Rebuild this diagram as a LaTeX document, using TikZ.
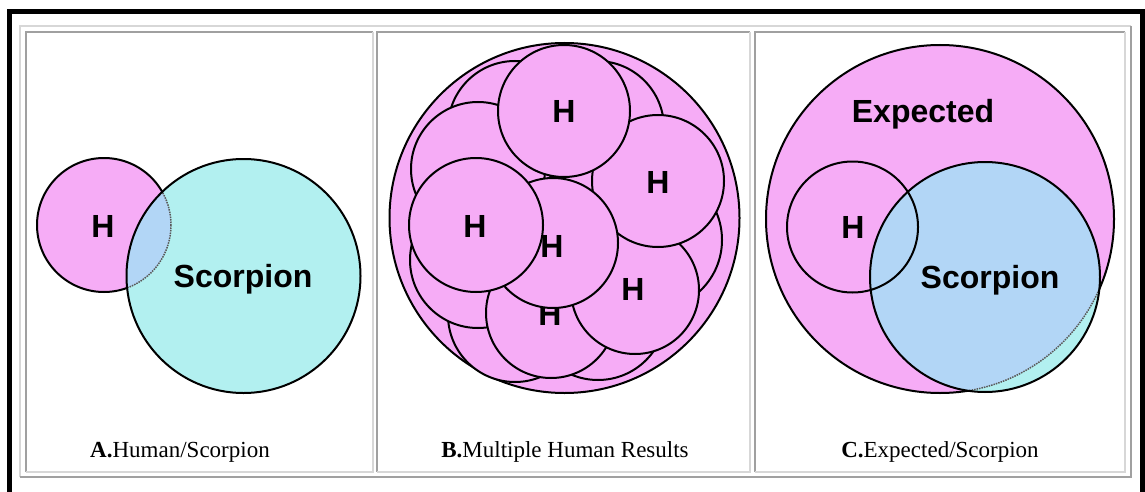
\documentclass[tikz,border=0pt]{standalone}
\usepackage{fontspec}
\setmainfont{Liberation Serif}
\setsansfont{Liberation Sans}
\usepackage{xcolor}
\definecolor{vennpink}{RGB}{246,172,246}
\definecolor{venncyan}{RGB}{178,240,240}
\definecolor{vennblue}{RGB}{178,214,246}
\definecolor{celldark}{RGB}{160,160,160}
\definecolor{celllight}{RGB}{215,215,215}

\begin{document}
\begin{tikzpicture}[x=1pt,y=-1pt,
  disc/.style={draw=black,line width=2pt},
  rim/.style={draw=black,line width=2pt},
  seam/.style={densely dotted,line width=1.5pt,black!65},
  inlbl/.style={font=\sffamily\bfseries\fontsize{32}{32}\selectfont,anchor=base,inner sep=0pt},
  capt/.style={font=\fontsize{23}{23}\selectfont,anchor=base,inner sep=0pt}
]
\useasboundingbox (0,0) rectangle (1145,492);
\fill[white] (0,0) rectangle (1145,492);

% black frame, open at the bottom
\draw[line width=5pt] (9.5,492) -- (9.5,11.5) -- (1142.5,11.5) -- (1142.5,492);
% table and cell borders
\draw[celllight,line width=1.5pt] (20,477) -- (20,26) -- (1131,26);
\draw[celldark,line width=1.5pt] (1131,26) -- (1131,477) -- (20,477);
\foreach \xa/\xb in {26/373,377/750,755/1125}{
  \draw[celldark,line width=1.5pt] (\xa,472) -- (\xa,32) -- (\xb,32);
  \draw[celllight,line width=1.5pt] (\xb,32) -- (\xb,472) -- (\xa,472);
}

% PANEL A: human / scorpion
\fill[vennpink] (104,225) circle (67);
\draw[rim] (104,225) circle (67);
\fill[venncyan] (243.5,276) circle (117);
\begin{scope}
  \clip (104,225) circle (67);
  \fill[vennblue] (243.5,276) circle (117);
\end{scope}
\begin{scope}
  \clip (243.5,276) circle (117);
  \draw[seam] (104,225) circle (67);
\end{scope}
\draw[rim] (243.5,276) circle (117);
\node[inlbl] (ha) at (103,237) {H};
\node[inlbl] (sa) at (243,287) {Scorpion};

% PANEL B: multiple human results
\filldraw[disc,fill=vennpink] (564.5,218) circle (175);
\foreach \x/\y/\r in {515/128/67,597/128/67,652/240/70,598/312/68,515/315/67,478/260/68}
  \filldraw[disc,fill=vennpink] (\x,\y) circle (\r);
\foreach \x/\y/\r/\lx/\ly [count=\i] in {478/169/67/475/181,551/313/65/550/325,
    635/290/64/633/300,658/181/66/658/193,564/111/66/564/122,
    553/243/65/552/257,476/225/67/475/237}{
  \filldraw[disc,fill=vennpink] (\x,\y) circle (\r);
  \node[inlbl] (hb\i) at (\lx,\ly) {H};
}

% PANEL C: expected / scorpion
\fill[vennpink] (940,219) circle (174);
\draw[rim] (940,219) circle (174);
\fill[venncyan] (985,277) circle (115);
\begin{scope}
  \clip (940,219) circle (174);
  \fill[vennblue] (985,277) circle (115);
\end{scope}
\begin{scope}
  \clip (985,277) circle (115);
  \draw[seam] (940,219) circle (174);
\end{scope}
\draw[rim] (985,277) circle (115);
\draw[rim] (852.5,227) circle (65.5);
\node[inlbl] (ex) at (923,122) {Expected};
\node[inlbl] (hc) at (853,238) {H};
\node[inlbl] (sc) at (990,288) {Scorpion};

% captions
\node[capt] (capa) at (180,457) {\textbf{A.}Human/Scorpion};
\node[capt] (capb) at (565,457) {\textbf{B.}Multiple Human Results};
\node[capt] (capc) at (940,457) {\textbf{C.}Expected/Scorpion};
\end{tikzpicture}
\end{document}
